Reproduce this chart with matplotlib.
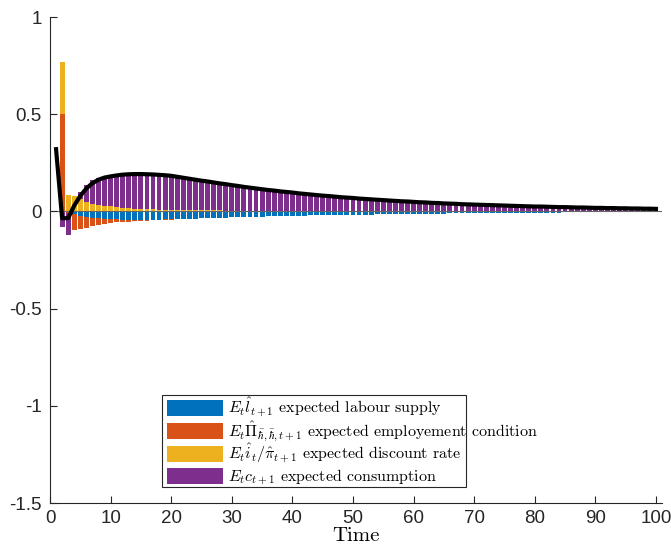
import numpy as np
import matplotlib.pyplot as plt
from matplotlib.patches import Rectangle

plt.rcParams['mathtext.fontset'] = 'cm'

periods = list(range(1, 101))

# E_t l_{t+1} expected labour supply
labour = [
    0.000, 0.000, -0.003, -0.012, -0.026, -0.029, -0.033, -0.036, -0.038, -0.040,
    -0.041, -0.042, -0.043, -0.043, -0.043, -0.043, -0.042, -0.042, -0.041, -0.040,
    -0.039, -0.039, -0.038, -0.037, -0.036, -0.035, -0.034, -0.033, -0.032, -0.031,
    -0.030, -0.029, -0.028, -0.027, -0.027, -0.026, -0.025, -0.024, -0.024, -0.023,
    -0.022, -0.022, -0.021, -0.020, -0.020, -0.019, -0.019, -0.018, -0.018, -0.017,
    -0.017, -0.016, -0.016, -0.015, -0.015, -0.014, -0.014, -0.013, -0.013, -0.013,
    -0.012, -0.012, -0.011, -0.011, -0.011, -0.010, -0.010, -0.010, -0.009, -0.009,
    -0.009, -0.008, -0.008, -0.008, -0.008, -0.007, -0.007, -0.007, -0.007, -0.006,
    -0.006, -0.006, -0.006, -0.006, -0.005, -0.005, -0.005, -0.005, -0.005, -0.005,
    -0.004, -0.004, -0.004, -0.004, -0.004, -0.004, -0.004, -0.003, -0.003, -0.003,
]

# E_t Pi expected employment condition
employment = [
    0.000, 0.500, -0.005, -0.086, -0.064, -0.054, -0.044, -0.035, -0.027, -0.021,
    -0.016, -0.012, -0.010, -0.008, -0.006, -0.005, -0.004, -0.003, -0.002, -0.002,
    -0.001, -0.001, -0.001, -0.001, 0.000, 0.000, 0.000, 0.000, 0.000, 0.000,
    0.000, 0.000, 0.000, 0.000, 0.000, 0.000, 0.000, 0.000, 0.000, 0.000,
    0.000, 0.000, 0.000, 0.000, 0.000, 0.000, 0.000, 0.000, 0.000, 0.000,
    0.000, 0.000, 0.000, 0.000, 0.000, 0.000, 0.000, 0.000, 0.000, 0.000,
    0.000, 0.000, 0.000, 0.000, 0.000, 0.000, 0.000, 0.000, 0.000, 0.000,
    0.000, 0.000, 0.000, 0.000, 0.000, 0.000, 0.000, 0.000, 0.000, 0.000,
    0.000, 0.000, 0.000, 0.000, 0.000, 0.000, 0.000, 0.000, 0.000, 0.000,
    0.000, 0.000, 0.000, 0.000, 0.000, 0.000, 0.000, 0.000, 0.000, 0.000,
]

# E_t i_t / pi_{t+1} expected discount rate
discount = [
    0.000, 0.270, 0.083, 0.080, 0.065, 0.050, 0.040, 0.035, 0.030, 0.026,
    0.022, 0.019, 0.016, 0.014, 0.012, 0.011, 0.010, 0.009, 0.008, 0.007,
    0.007, 0.006, 0.006, 0.006, 0.005, 0.005, 0.005, 0.005, 0.004, 0.004,
    0.004, 0.004, 0.004, 0.003, 0.003, 0.003, 0.003, 0.003, 0.003, 0.003,
    0.002, 0.002, 0.002, 0.002, 0.002, 0.002, 0.002, 0.002, 0.002, 0.002,
    0.002, 0.002, 0.002, 0.002, 0.002, 0.002, 0.002, 0.002, 0.002, 0.002,
    0.001, 0.001, 0.001, 0.001, 0.001, 0.001, 0.001, 0.001, 0.001, 0.001,
    0.001, 0.001, 0.001, 0.001, 0.001, 0.001, 0.001, 0.001, 0.001, 0.001,
    0.001, 0.001, 0.001, 0.001, 0.001, 0.001, 0.001, 0.001, 0.001, 0.001,
    0.001, 0.001, 0.001, 0.001, 0.001, 0.001, 0.001, 0.001, 0.001, 0.001,
]

# E_t c_{t+1} expected consumption
consumption = [
    0.000, -0.080, -0.115, 0.000, 0.035, 0.088, 0.120, 0.137, 0.148, 0.155,
    0.161, 0.165, 0.169, 0.171, 0.173, 0.173, 0.173, 0.172, 0.171, 0.169,
    0.164, 0.160, 0.155, 0.150, 0.146, 0.142, 0.137, 0.132, 0.129, 0.124,
    0.120, 0.115, 0.111, 0.108, 0.104, 0.101, 0.098, 0.094, 0.091, 0.088,
    0.086, 0.083, 0.080, 0.077, 0.074, 0.072, 0.069, 0.066, 0.064, 0.062,
    0.059, 0.057, 0.055, 0.053, 0.051, 0.049, 0.047, 0.046, 0.045, 0.043,
    0.041, 0.040, 0.039, 0.038, 0.036, 0.035, 0.034, 0.032, 0.031, 0.030,
    0.029, 0.028, 0.027, 0.026, 0.025, 0.025, 0.024, 0.023, 0.022, 0.021,
    0.021, 0.020, 0.019, 0.018, 0.018, 0.017, 0.016, 0.016, 0.015, 0.014,
    0.014, 0.013, 0.013, 0.012, 0.012, 0.011, 0.011, 0.010, 0.010, 0.009,
]

# black line
total = [
    0.320, -0.035, -0.035, 0.030, 0.080, 0.118, 0.145, 0.163, 0.174, 0.180,
    0.185, 0.189, 0.191, 0.192, 0.192, 0.191, 0.190, 0.188, 0.186, 0.183,
    0.178, 0.173, 0.168, 0.163, 0.158, 0.154, 0.149, 0.144, 0.140, 0.135,
    0.131, 0.126, 0.122, 0.118, 0.114, 0.110, 0.107, 0.103, 0.100, 0.097,
    0.093, 0.090, 0.087, 0.084, 0.081, 0.079, 0.076, 0.073, 0.071, 0.069,
    0.066, 0.064, 0.062, 0.060, 0.058, 0.056, 0.054, 0.052, 0.051, 0.049,
    0.047, 0.046, 0.044, 0.043, 0.041, 0.040, 0.039, 0.037, 0.036, 0.035,
    0.034, 0.033, 0.032, 0.031, 0.030, 0.029, 0.028, 0.027, 0.026, 0.025,
    0.025, 0.024, 0.023, 0.022, 0.022, 0.021, 0.020, 0.020, 0.019, 0.018,
    0.018, 0.017, 0.017, 0.016, 0.016, 0.015, 0.015, 0.014, 0.014, 0.013,
]

labels = [
    r'$E_t\hat{l}_{t+1}$ expected labour supply',
    r'$E_t\hat{\Pi}_{\bar{\hbar},\bar{\hbar},t+1}$ expected employement condition',
    r'$E_t\hat{i}_t/\hat{\pi}_{t+1}$ expected discount rate',
    r'$E_tc_{t+1}$ expected consumption',
]
colors = ['#0072BD', '#D95319', '#EDB120', '#7E2F8E']

yticks = [-1.5, -1, -0.5, 0, 0.5, 1]
yticklabels = ['-1.5', '-1', '-0.5', '0', '0.5', '1']
xticks = [0, 10, 20, 30, 40, 50, 60, 70, 80, 90, 100]

W, H = 671, 554
fig = plt.figure(figsize=(W / 100, H / 100), dpi=100)
ax = fig.add_axes([50 / W, 1 - 503 / H, 612 / W, 486 / H])

x = np.array(periods)
pos_base = np.zeros(len(x))
neg_base = np.zeros(len(x))
for vals, c in zip([labour, employment, discount, consumption], colors):
    v = np.array(vals)
    base = np.where(v >= 0, pos_base, neg_base)
    ax.bar(x, v, width=0.8, bottom=base, color=c, edgecolor='none')
    pos_base = pos_base + np.where(v > 0, v, 0)
    neg_base = neg_base + np.where(v < 0, v, 0)

ax.axhline(0, color='#666666', lw=0.8, zorder=1)
ax.plot(x, total, color='black', lw=3, solid_joinstyle='round', zorder=5)

ax.set_xlim(0, 101)
ax.set_ylim(-1.5, 1)
ax.set_yticks(yticks)
ax.set_yticklabels(yticklabels)
ax.set_xticks(xticks)
ax.tick_params(direction='in', length=5, width=0.8, colors='#262626',
               labelsize=13.5, labelcolor='#262626')
for lab in ax.get_xticklabels() + ax.get_yticklabels():
    lab.set_family('Liberation Sans')
ax.tick_params(axis='x', pad=5)
ax.tick_params(axis='y', pad=6)
ax.spines['top'].set_visible(False)
ax.spines['right'].set_visible(False)
for s in ['left', 'bottom']:
    ax.spines[s].set_color('#262626')
    ax.spines[s].set_linewidth(0.8)

ax.set_xlabel('Time', family='cmr10', fontsize=15, labelpad=0)

# legend drawn by hand (box narrower than the longest entry, as in the original)
def fx(px):
    return px / W

def fy(py):
    return 1 - py / H

fig.patches.append(Rectangle((fx(162), fy(487)), fx(466) - fx(162), fy(395) - fy(487),
                             transform=fig.transFigure, facecolor='white',
                             edgecolor='#262626', lw=0.8, zorder=10))
row_centers = [408, 431, 454, 476]
for yc, c, lab in zip(row_centers, colors, labels):
    fig.patches.append(Rectangle((fx(167), fy(yc + 8)), fx(223) - fx(167), fy(yc - 8) - fy(yc + 8),
                                 transform=fig.transFigure, facecolor=c,
                                 edgecolor='none', zorder=11))
    fig.text(fx(228), fy(yc + 5), lab, family='cmr10', fontsize=11.5,
             va='baseline', ha='left', zorder=12)

fig.savefig('out.png', dpi=100)
